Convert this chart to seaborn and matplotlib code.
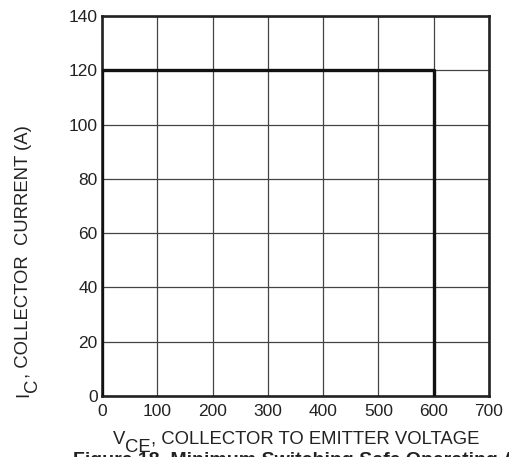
import matplotlib
matplotlib.use('Agg')
import matplotlib.pyplot as plt
import seaborn as sns
import pandas as pd

# ── Data ───────────────────────────────────────────────────────────────────
VCE_V = [0, 0, 600, 600]        # collector-emitter voltage (V)
IC_A = [0, 120, 120, 0]         # collector current (A)
X_TICKS = [0, 100, 200, 300, 400, 500, 600, 700]
Y_TICKS = [0, 20, 40, 60, 80, 100, 120, 140]

W, H = 510, 457
TXT = '#222222'

sns.set_style('white')
plt.rcParams['font.family'] = ['Liberation Sans', 'DejaVu Sans']

df = pd.DataFrame({'vce': VCE_V, 'ic': IC_A})

fig = plt.figure(figsize=(W / 100, H / 100), dpi=100)
ax = fig.add_axes([102 / W, 1 - 396 / H, 387 / W, 380 / H])

sns.lineplot(data=df, x='vce', y='ic', sort=False, estimator=None,
             color='#111111', linewidth=2.4, ax=ax, zorder=3)

ax.set_xlim(0, 700)
ax.set_ylim(0, 140)
ax.set_xticks(X_TICKS)
ax.set_yticks(Y_TICKS)
ax.grid(True, color='#444444', linewidth=0.9)
ax.set_axisbelow(True)
ax.tick_params(axis='both', length=0, labelsize=12.5, colors=TXT)
ax.tick_params(axis='x', pad=6)
ax.tick_params(axis='y', pad=3)
for sp in ax.spines.values():
    sp.set_linewidth(1.9)
    sp.set_color('#222222')
    sp.set_visible(True)
ax.set_xlabel('')
ax.set_ylabel('')

renderer = fig.canvas.get_renderer()


def label_with_sub(pieces, center, base, vertical=False, size=13.3):
    """pieces: list of (text, baseline shift in px); subscripts kept full size."""
    rot = 90 if vertical else 0
    texts = [fig.text(0, 0, s, fontsize=size, color=TXT, rotation=rot,
                      rotation_mode='anchor', ha='left', va='baseline')
             for s, _ in pieces]
    sizes = []
    for t in texts:
        bb = t.get_window_extent(renderer)
        sizes.append(bb.height if vertical else bb.width)
    total = sum(sizes)
    if vertical:
        # build upward from the bottom of the label
        y = center + total / 2
        for t, (s, shift), d in zip(texts, pieces, sizes):
            t.set_position(((base + shift) / W, 1 - y / H))
            y -= d
    else:
        x = center - total / 2
        for t, (s, shift), d in zip(texts, pieces, sizes):
            t.set_position((x / W, 1 - (base + shift) / H))
            x += d


label_with_sub([('V', 0), ('CE', 8), (', COLLECTOR TO EMITTER VOLTAGE', 0)],
               center=296, base=444)
label_with_sub([('I', 0), ('C', 9), (', COLLECTOR  CURRENT (A)', 0)],
               center=261, base=28, vertical=True)

# caption sits at the bottom edge and is cut off there, as in the source figure
fig.text(73 / W, 1 - 452 / H, 'Figure 18. Minimum Switching Safe Operating Area',
         ha='left', va='top', fontsize=14, fontweight='bold', color=TXT)

fig.savefig('out.png', dpi=100)
